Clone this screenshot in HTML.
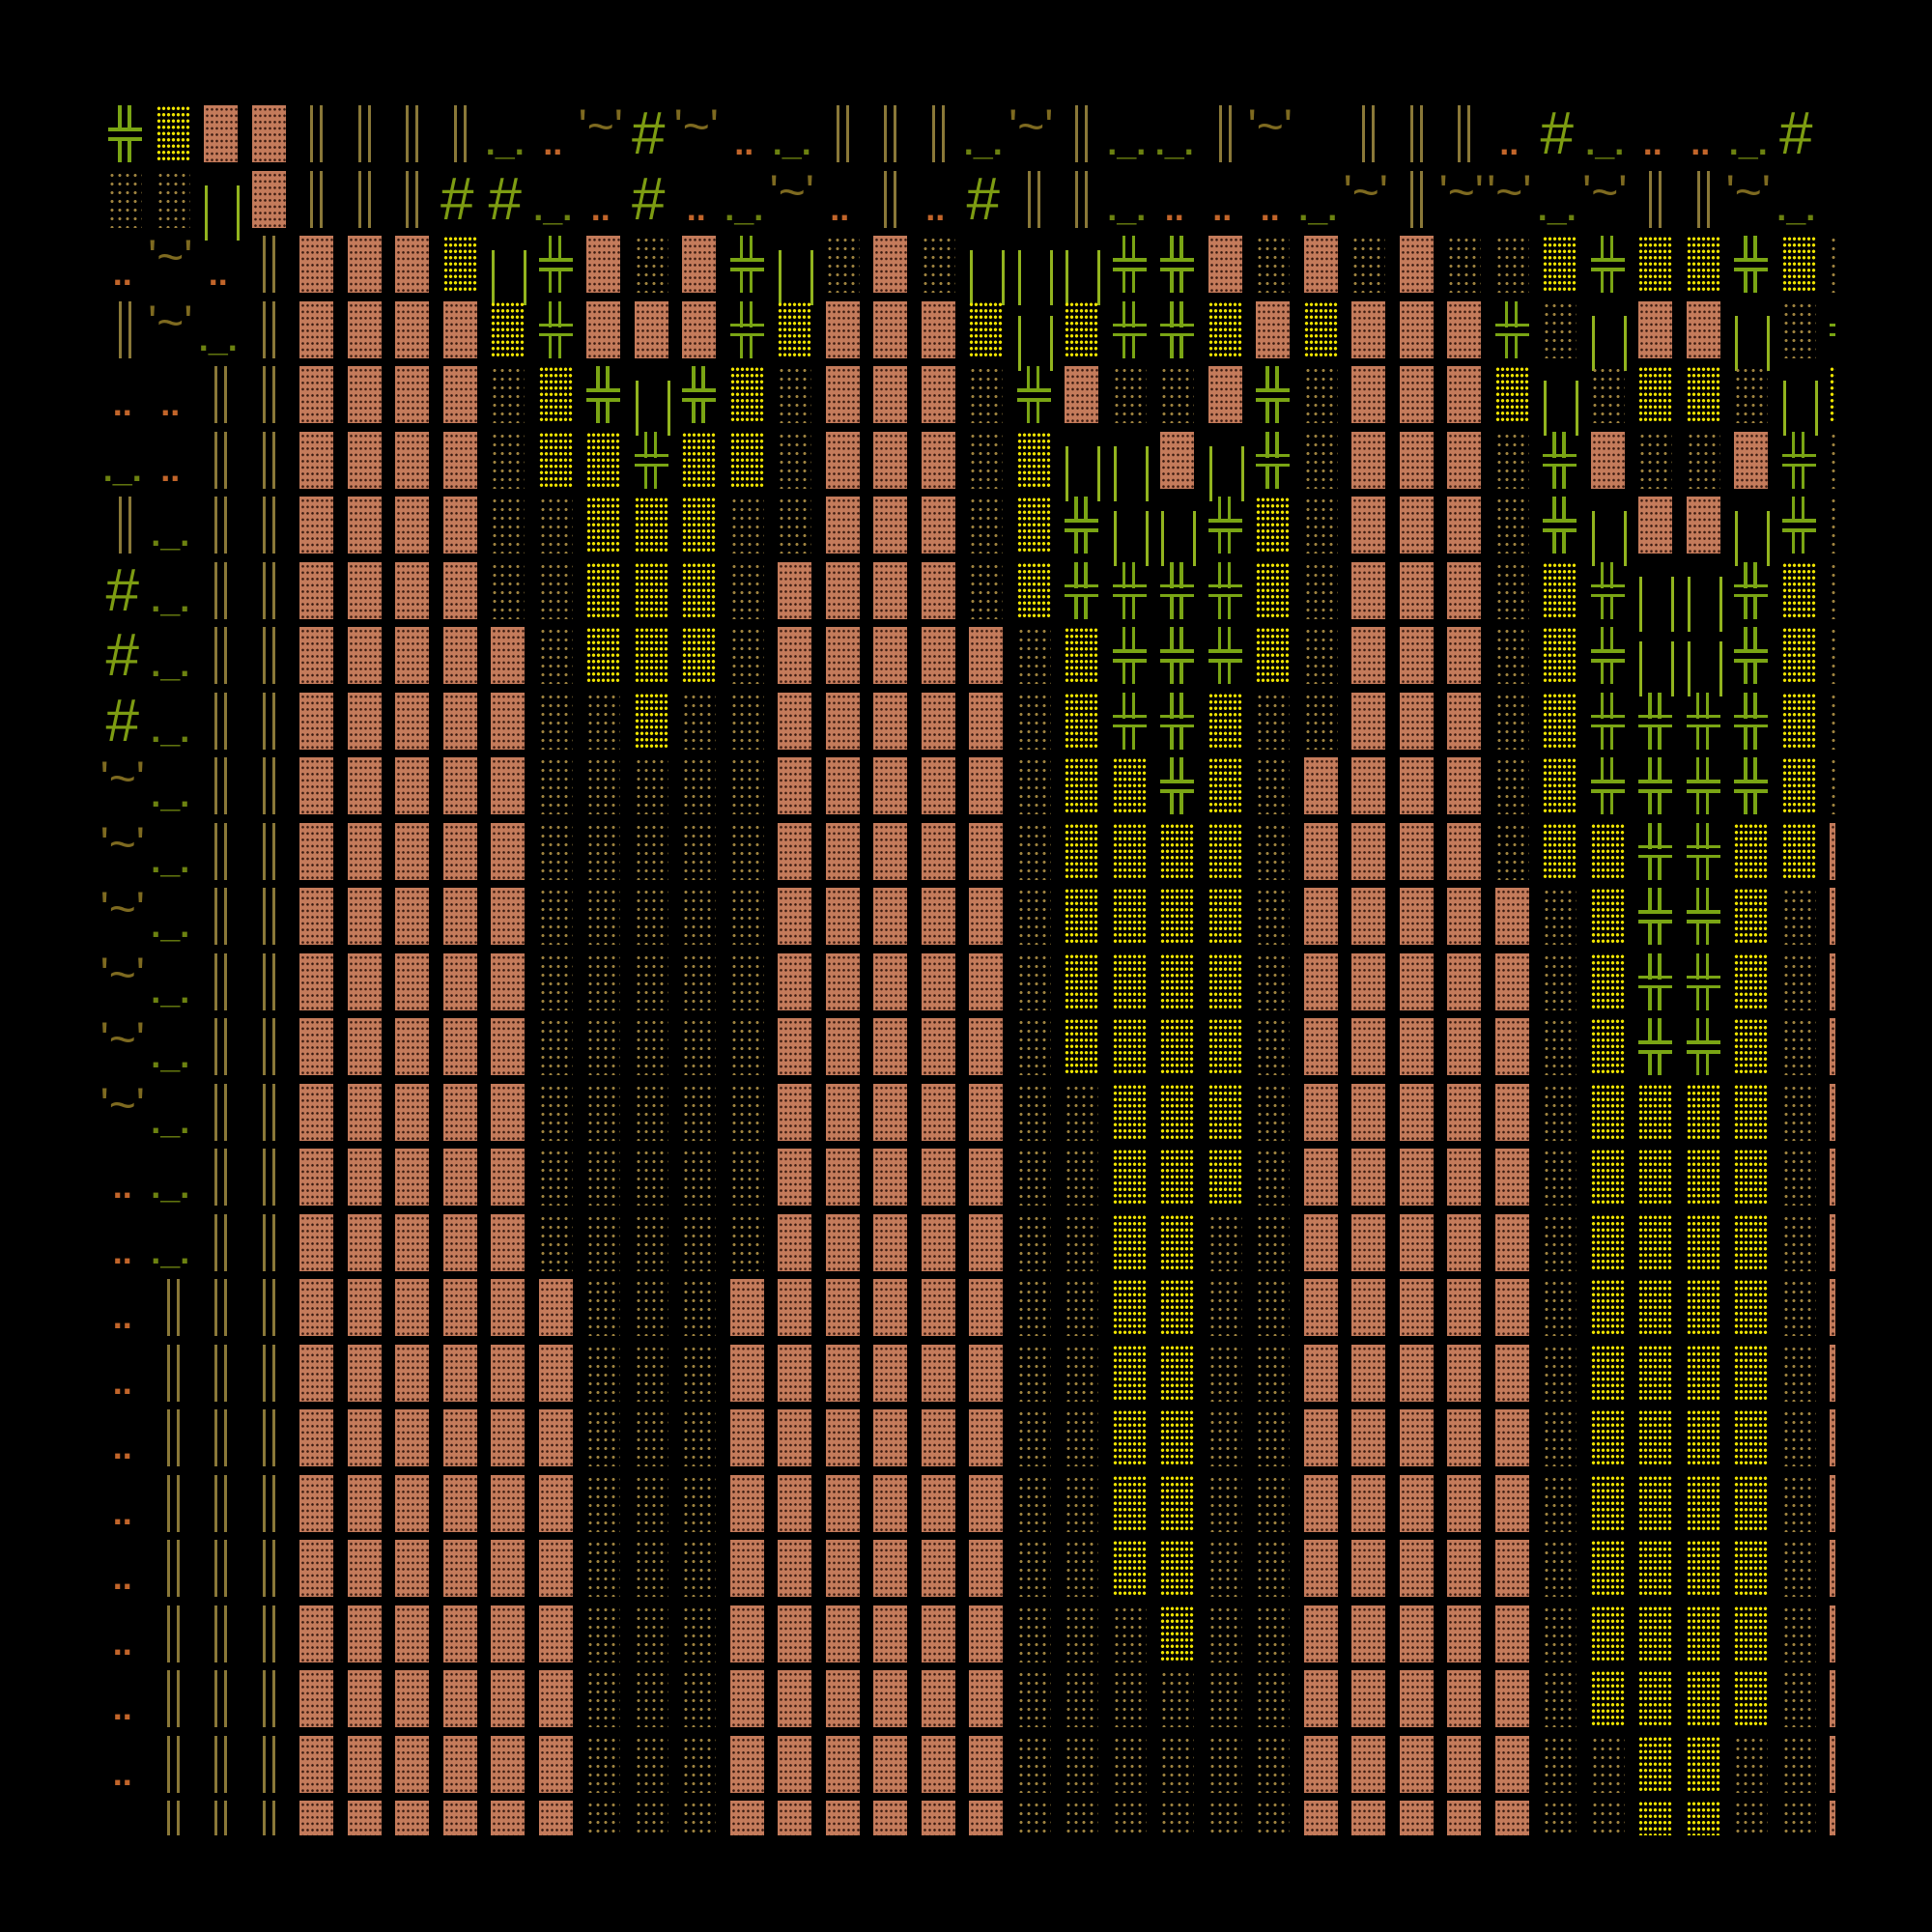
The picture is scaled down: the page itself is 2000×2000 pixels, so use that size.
<!DOCTYPE html>
<html><head><meta charset="utf-8">
<style>
html,body{margin:0;padding:0;background:#000;}
#wrap{position:absolute;left:100px;top:100px;width:1800px;height:1800px;overflow:hidden;background:#000;}
.c{position:absolute;width:49.5px;height:67.5px;}
.P{position:absolute;left:10px;top:9px;width:35px;height:59px;background-color:#c47b5b;
 background-image:radial-gradient(circle,#3a1a10 1.1px,transparent 1.5px);background-size:5px 6.55px;background-position:1px 1px;}
.Y{position:absolute;left:10px;top:9px;width:35px;height:59px;
 background-image:radial-gradient(circle,#f0e400 1.5px,transparent 1.9px);background-size:5px 6.5px;}
.D{position:absolute;left:10px;top:9px;width:35px;height:59px;
 background-image:radial-gradient(circle,#a08440 1.3px,transparent 1.8px);background-size:8px 9px;}
.v{position:absolute;}
.t{position:absolute;left:0;width:49.5px;text-align:center;font-family:"Liberation Sans",sans-serif;white-space:nowrap;}
</style></head><body>
<div id="wrap"></div>
<script>
var rows=[
"GYPPLLLL_o~#~o_LLL_~L__L~ELLLo#_oo_#o",
"DDlPLLL##_o#o_~oLo#LL_ooo_~L~~_~LL~_o",
"o~oLPPPYlGPDPGlDPDlllGGPDPDPDDYGYYGYD",
"L~_LPPPPYGPPPGYPPPYlYGGYPYPPPGDlPPlDG",
"ooLLPPPPDYGlGYDPPPDGPDDPGDPPPYlDYYDlY",
"_oLLPPPPDYYGYYDPPPDYllPlGDPPPDGPDDPGD",
"L_LLPPPPDDYYYDDPPPDYGllGYDPPPDGlPPlGD",
"#_LLPPPPDDYYYDPPPPDYGGGGYDPPPDYGllGYD",
"#_LLPPPPPDYYYDPPPPPDYGGGYDPPPDYGllGYD",
"#_LLPPPPPDDYDDPPPPPDYGGYDDPPPDYGGGGYD",
"~_LLPPPPPDDDDDPPPPPDYYGYDPPPPDYGGGGYD",
"~_LLPPPPPDDDDDPPPPPDYYYYDPPPPDYYGGYYP",
"~_LLPPPPPDDDDDPPPPPDYYYYDPPPPPDYGGYDP",
"~_LLPPPPPDDDDDPPPPPDYYYYDPPPPPDYGGYDP",
"~_LLPPPPPDDDDDPPPPPDYYYYDPPPPPDYGGYDP",
"~_LLPPPPPDDDDDPPPPPDDYYYDPPPPPDYYYYDP",
"o_LLPPPPPDDDDDPPPPPDDYYYDPPPPPDYYYYDP",
"o_LLPPPPPDDDDDPPPPPDDYYDDPPPPPDYYYYDP",
"oLLLPPPPPPDDDPPPPPPDDYYDDPPPPPDYYYYDP",
"oLLLPPPPPPDDDPPPPPPDDYYDDPPPPPDYYYYDP",
"oLLLPPPPPPDDDPPPPPPDDYYDDPPPPPDYYYYDP",
"oLLLPPPPPPDDDPPPPPPDDYYDDPPPPPDYYYYDP",
"oLLLPPPPPPDDDPPPPPPDDYYDDPPPPPDYYYYDP",
"oLLLPPPPPPDDDPPPPPPDDDYDDPPPPPDYYYYDP",
"oLLLPPPPPPDDDPPPPPPDDDDDDPPPPPDYYYYDP",
"oLLLPPPPPPDDDPPPPPPDDDDDDPPPPPDDYYDDP",
"oLLLPPPPPPDDDPPPPPPDDDDDDPPPPPDDYYDDP"];
function bar(l,t,w,h,c){return '<div class="v" style="left:'+l+'px;top:'+t+'px;width:'+w+'px;height:'+h+'px;background:'+c+'"></div>';}
var h='';
for(var r=0;r<rows.length;r++){
 for(var c=0;c<rows[r].length;c++){
  var ch=rows[r][c];
  var x=2+49.5*c, y=67.5*r, s='';
  if(ch=='P')s='<div class="P"></div>';
  else if(ch=='Y')s='<div class="Y"></div>';
  else if(ch=='D')s='<div class="D"></div>';
  else if(ch=='G'){var g='#7aa514';s=bar(20,9,3.5,27,g)+bar(30,9,3.5,27,g)+bar(10,32,35,3.5,g)+bar(10,42,35,3.5,g)+bar(20,42,3.5,26,g)+bar(30,42,3.5,26,g);}
  else if(ch=='l'){var g='#92b41e';s=bar(11,24,3,57,g)+bar(44,24,3,57,g);}
  else if(ch=='L'){var g='#8a7838';s=bar(21,9,3,59,g)+bar(31,9,3,59,g);}
  else if(ch=='#')s='<div class="t" style="top:8px;font-size:62px;line-height:62px;color:#7d9c12">#</div>';
  else if(ch=='~')s='<div class="t" style="top:8px;font-size:48px;line-height:48px;color:#7e6a20">\'~\'</div>';
  else if(ch=='_')s='<div class="t" style="top:30px;font-size:36px;line-height:36px;color:#6c8210;font-weight:bold">._.</div>';
  else if(ch=='o')s='<div class="t" style="top:30px;font-size:36px;line-height:36px;color:#c2652a;font-weight:bold">..</div>';
  if(s)h+='<div class="c" style="left:'+x+'px;top:'+y+'px">'+s+'</div>';
 }
}
document.getElementById('wrap').innerHTML=h;
</script>
</body></html>
